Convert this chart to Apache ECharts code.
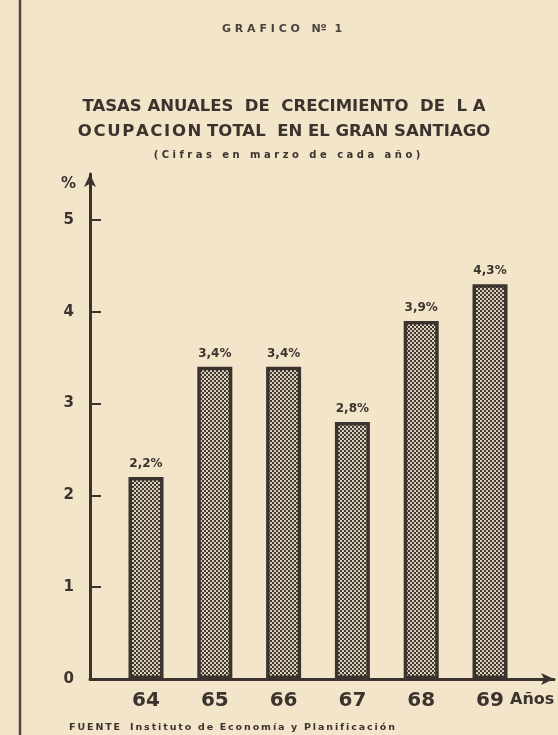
<!DOCTYPE html>
<html>
<head>
<meta charset="utf-8">
<script src="https://cdn.jsdelivr.net/npm/echarts@6/dist/echarts.min.js"></script>
<style>
  html, body { margin: 0; padding: 0; background: #f3e5ca; }
  #chart { width: 558px; height: 735px; }
</style>
</head>
<body>
<div id="chart"></div>
<script>
// datos del grafico
var years = [64, 65, 66, 67, 68, 69];
var rates = [2.2, 3.4, 3.4, 2.8, 3.9, 4.3];
var rateLabels = ['2,2%', '3,4%', '3,4%', '2,8%', '3,9%', '4,3%'];
var yTicks = [0, 1, 2, 3, 4, 5];

var ink = '#3b332d';
var font = '"DejaVu Sans", sans-serif';

// separa las letras con espacio fino (imita el rotulado espaciado)
function spaced(s, gap) {
    return s.split(' ').map(function (w) { return w.split('').join('\u2009'); }).join(gap || '   ');
}

// trama punteada de las barras
function dotPattern() {
    var c = document.createElement('canvas');
    c.width = 4; c.height = 4;
    var ctx = c.getContext('2d');
    ctx.fillStyle = '#3f3833';
    ctx.fillRect(0, 0, 4, 4);
    ctx.fillStyle = '#dcd0b8';
    ctx.fillRect(0, 0, 2, 2);
    ctx.fillRect(2, 2, 2, 2);
    return c;
}

var chart = echarts.init(document.getElementById('chart'));

var option = {
    backgroundColor: '#f3e5ca',
    animation: false,
    title: [
        {
            text: 'G R A F I C O   Nº  1',
            left: 277, top: 19, textAlign: 'center',
            textStyle: { fontFamily: font, fontSize: 11, fontWeight: 'bold', color: '#4a423b' }
        },
        {
            text: 'TASAS ANUALES  DE  CRECIMIENTO  DE  L A\n' +
                  'O\u200aC\u200aU\u200aP\u200aA\u200aC\u200aI\u200aO\u200aN TOTAL  EN EL GRAN SANTIAGO',
            left: 279, top: 89, textAlign: 'center',
            textStyle: { fontFamily: font, fontSize: 16.5, fontWeight: 'bold', color: ink, lineHeight: 25 }
        },
        {
            text: '( C i f r a s   e n   m a r z o   d e   c a d a   a ñ o )',
            left: 282, top: 145, textAlign: 'center',
            textStyle: { fontFamily: font, fontSize: 10, fontWeight: 'bold', color: ink }
        },
        {
            text: '{b|' + spaced('FUENTE') + '}   ' + spaced('Instituto de Economía y Planificación', '  '),
            left: 64, top: 718,
            textStyle: {
                fontFamily: font, fontSize: 9.5, color: ink,
                rich: { b: { fontFamily: font, fontSize: 9.5, fontWeight: 'bold', color: ink } }
            }
        }
    ],
    graphic: [
        {
            type: 'line',
            shape: { x1: 20, y1: 0, x2: 20, y2: 735 },
            style: { stroke: '#4f463f', lineWidth: 2.5 }
        }
    ],
    grid: { left: 90, right: 4, top: 174, bottom: 56 },
    xAxis: {
        type: 'value',
        min: 63.186,
        max: 69.93,
        name: 'Años',
        nameLocation: 'end',
        nameGap: -44,
        nameTextStyle: {
            fontFamily: font, fontSize: 16, fontWeight: 'bold', color: ink,
            align: 'left', verticalAlign: 'top', padding: [13, 0, 0, 0]
        },
        splitLine: { show: false },
        axisLine: { lineStyle: { color: ink, width: 3 }, symbol: ['none', 'arrow'], symbolSize: [9, 13] },
        axisTick: { show: false },
        axisLabel: {
            customValues: years,
            margin: 12,
            fontFamily: font, fontSize: 20, fontWeight: 'bold', color: ink
        }
    },
    yAxis: {
        type: 'value',
        min: 0,
        max: 5.5,
        name: '%',
        nameLocation: 'end',
        nameGap: -18,
        nameTextStyle: {
            fontFamily: font, fontSize: 15, fontWeight: 'bold', color: ink,
            align: 'right', padding: [0, 14, 0, 0]
        },
        splitLine: { show: false },
        axisLine: { show: true, lineStyle: { color: ink, width: 3 }, symbol: ['none', 'arrow'], symbolSize: [9, 13] },
        axisTick: {
            show: true, inside: true, length: 11,
            customValues: yTicks.slice(1),
            lineStyle: { color: ink, width: 2 }
        },
        axisLabel: {
            customValues: yTicks,
            margin: 16,
            fontFamily: font, fontSize: 15, fontWeight: 'bold', color: ink
        }
    },
    series: [
        {
            type: 'bar',
            barWidth: 35,
            data: years.map(function (y, i) { return [y, rates[i]]; }),
            itemStyle: {
                color: { image: dotPattern(), repeat: 'repeat' },
                borderColor: ink,
                borderWidth: 3.5
            },
            label: {
                show: true,
                position: 'top',
                distance: 7,
                formatter: function (p) { return rateLabels[p.dataIndex]; },
                fontFamily: font, fontSize: 12, fontWeight: 'bold', color: ink
            }
        }
    ]
};

chart.setOption(option);
</script>
</body>
</html>
